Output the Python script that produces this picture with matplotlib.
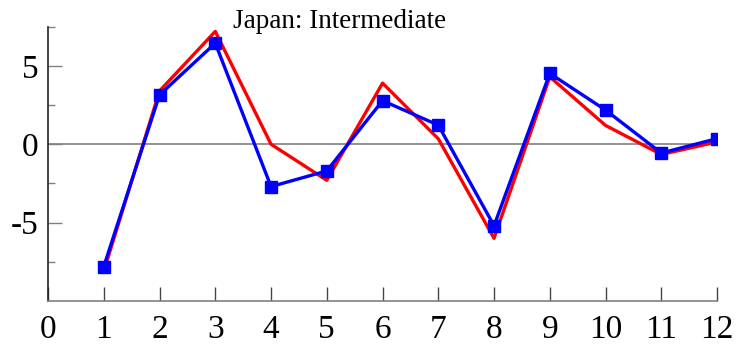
import matplotlib.pyplot as plt

# monthly values, Japan: Intermediate
months = [1, 2, 3, 4, 5, 6, 7, 8, 9, 10, 11, 12]
red_series = [-8.1, 3.4, 7.2, 0.0, -2.3, 3.9, 0.35, -6.0, 4.3, 1.2, -0.65, 0.15]
blue_series = [-7.8, 3.15, 6.45, -2.7, -1.7, 2.78, 1.22, -5.2, 4.52, 2.18, -0.56, 0.36]
xticks = list(range(0, 13))
yticks = [-5, 0, 5]

plt.rcParams['font.family'] = 'Liberation Serif'

fig = plt.figure(figsize=(7.4, 3.49), dpi=100)
ax = fig.add_axes([0.0649, 0.1375, 0.9041, 0.786])

ax.axhline(0, color='#808080', lw=1.2, zorder=1)
ax.plot(months, red_series, color='#ff0000', lw=2.4, zorder=2)
ax.plot(months, blue_series, color='#0000ff', lw=2.4, marker='s', markersize=8, zorder=3)

ax.set_xlim(0, 12)
ax.set_ylim(-10, 7.5)
ax.set_xticks(xticks)
ax.set_yticks(yticks)
ax.set_yticks([-7.5, -2.5, 2.5, 7.5], minor=True)

for s in ['top', 'right']:
    ax.spines[s].set_visible(False)
ax.spines['left'].set_color('#222222')
ax.spines['bottom'].set_color('#808080')
ax.spines['left'].set_linewidth(1.2)
ax.spines['bottom'].set_linewidth(1.2)

ax.tick_params(axis='x', direction='in', length=10, width=1, color='#444444',
               labelsize=24, pad=10)
ax.tick_params(axis='y', which='major', direction='in', length=10, width=1,
               color='#808080', labelsize=24, pad=7)
ax.tick_params(axis='y', which='minor', direction='in', length=5, width=1,
               color='#808080')
ax.set_yticklabels(['-5', '0', '5'])

fig.text(340 / 740, 1 - 28 / 349, 'Japan: Intermediate', ha='center',
         va='baseline', fontsize=19.5)

fig.savefig('out.png', dpi=100)
